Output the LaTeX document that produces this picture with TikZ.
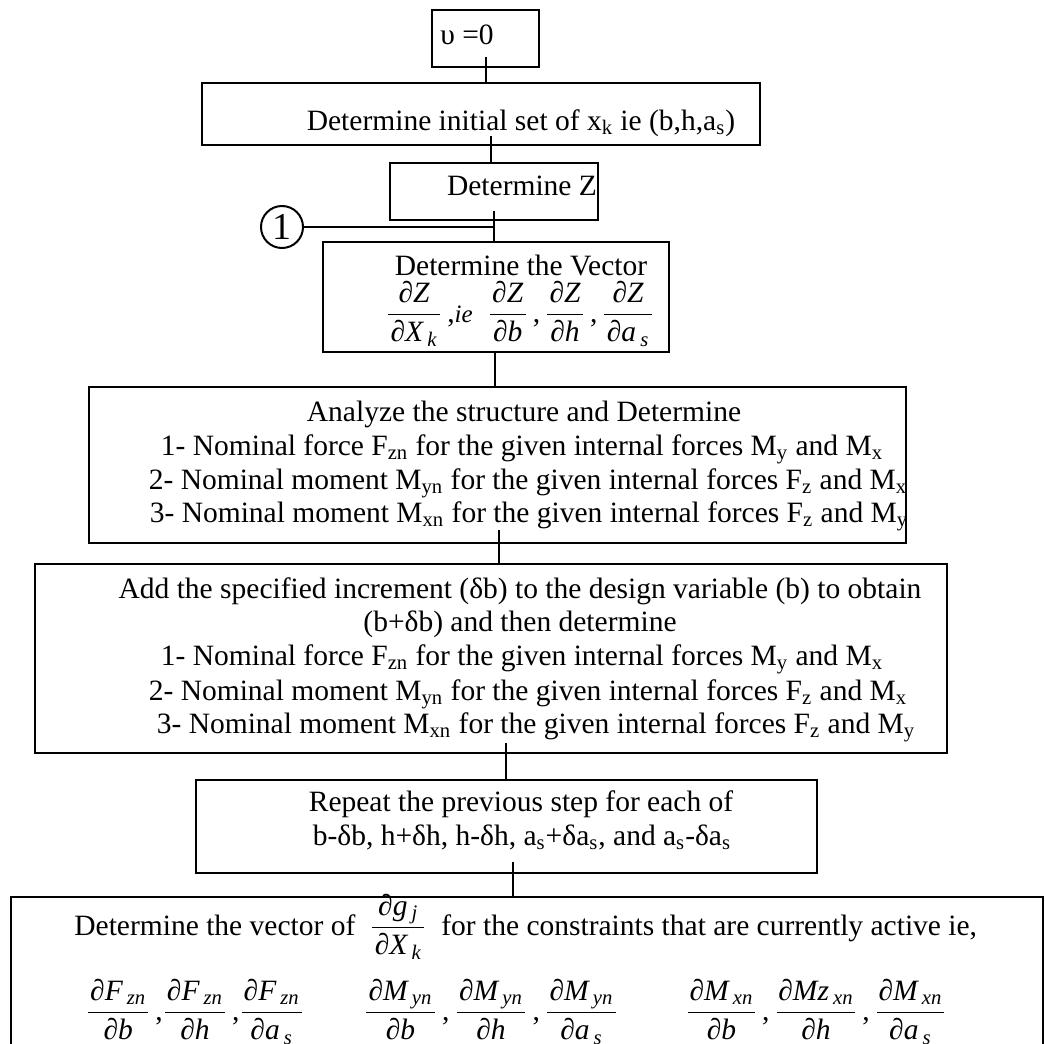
\documentclass[tikz,border=0pt]{standalone}
\usepackage{fontspec}
\usepackage{amsmath}
\setmainfont{Liberation Serif}
\usetikzlibrary{fit}
\newcommand\fs{\fontsize{14.75pt}{16.85pt}\selectfont}
\newcommand\sbs[1]{\hspace{0.14em}\textsubscript{\itshape #1}}
\newlength\fpad
\setlength\fpad{0.12em}
\newcommand\pd[2]{\ensuremath{\dfrac{\text{\itshape\hspace{\fpad}#1\hspace{\fpad}}}{\text{\itshape\hspace{\fpad}#2\hspace{\fpad}}}}}
\newcommand\ts[1]{\textsubscript{#1}}
\begin{document}
\begin{tikzpicture}[x=0.5pt,y=-0.5pt,
  box/.style={draw, line width=1pt, inner sep=0pt, fit={#1}},
  txt/.style={anchor=base, inner sep=0pt, font=\fs},
  conn/.style={line width=1pt}]
\useasboundingbox (0,0) rectangle (1045,1044);
\clip (0,0) rectangle (1045,1044);
% boxes
\node (A) [box={(432,10) (539,67)}] {};
\node (B) [box={(202,83) (760,145)}] {};
\node (C) [box={(390,163) (598,220)}] {};
\node (D) [box={(323,242) (669,352)}] {};
\node (E) [box={(89,387) (906,543)}] {};
\node (F) [box={(35,564) (947,753)}] {};
\node (G) [box={(196,780) (817,873)}] {};
\node (H) [box={(11,897) (1043,1070)}] {};
\node (one) [circle, draw, line width=1pt, minimum size=21pt, inner sep=0pt, font=\fontsize{19pt}{19pt}\selectfont] at (282,227) {1};
% texts
\node (At) [txt] at (467,45) {υ =0};
\node (Bt) [txt] at (521,130) {Determine initial set of x\ts{k} ie (b,h,a\ts{s})};
\node (Ct) [txt] at (522,195) {Determine Z};
\node (Dt1) [txt] at (521,275) {Determine the Vector};
\node (Dt2) [txt] at (520,322) {\pd{∂Z}{∂X\sbs{k}}\,,{\fontsize{12.5pt}{13pt}\selectfont\itshape ie}\hspace{0.5em}\pd{∂Z}{∂b}\,,\hspace{0.15em}\pd{∂Z}{∂h}\,,\hspace{0.15em}\pd{∂Z}{∂a\sbs{s}}};
\node (Et1) [txt] at (524,421) {Analyze the structure and Determine};
\node (Et2) [txt] at (522,455) {1- Nominal force F\ts{zn} for the given internal forces M\ts{y} and M\ts{x}};
\node (Et3) [txt] at (528,489) {2- Nominal moment M\ts{yn} for the given internal forces F\ts{z} and M\ts{x}};
\node (Et4) [txt] at (529,522) {3- Nominal moment M\ts{xn} for the given internal forces F\ts{z} and M\ts{y}};
\node (Ft1) [txt] at (520,598) {Add the specified increment (δb) to the design variable (b) to obtain};
\node (Ft2) [txt] at (520,631) {(b+δb) and then determine};
\node (Ft3) [txt] at (522,665) {1- Nominal force F\ts{zn} for the given internal forces M\ts{y} and M\ts{x}};
\node (Ft4) [txt] at (528,700) {2- Nominal moment M\ts{yn} for the given internal forces F\ts{z} and M\ts{x}};
\node (Ft5) [txt] at (536,733) {3- Nominal moment M\ts{xn} for the given internal forces F\ts{z} and M\ts{y}};
\node (Gt1) [txt] at (521,811) {Repeat the previous step for each of};
\node (Gt2) [txt] at (522,845) {b-δb, h+δh, h-δh, a\ts{s}+δa\ts{s}, and a\ts{s}-δa\ts{s}};
\node (Ht1) [txt, anchor=base west] at (74,935) {Determine the vector of \ \pd{∂g\sbs{j}}{∂X\sbs{k}}\ \ for the constraints that are currently active ie,};
\node (Ht2) [txt] at (195,1020) {\setlength\fpad{0.06em}\pd{∂F\sbs{zn}}{∂b}\,,\pd{∂F\sbs{zn}}{∂h}\,,\pd{∂F\sbs{zn}}{∂a\sbs{s}}};
\node (Ht3) [txt] at (491,1020) {\setlength\fpad{0.08em}\pd{∂M\sbs{yn}}{∂b}\,,\,\pd{∂M\sbs{yn}}{∂h}\,,\,\pd{∂M\sbs{yn}}{∂a\sbs{s}}};
\node (Ht4) [txt] at (816,1020) {\setlength\fpad{0.05em}\pd{∂M\sbs{xn}}{∂b}\,,\,\pd{∂Mz\sbs{xn}}{∂h}\,,\,\pd{∂M\sbs{xn}}{∂a\sbs{s}}};
% connectors
\coordinate (ab) at (486,57);
\coordinate (bc) at (491,136);
\coordinate (cd) at (494,211);
\coordinate (de) at (495,352);
\coordinate (ef) at (499,530);
\coordinate (fg) at (506,743);
\coordinate (gh) at (513,862);
\draw[conn] (ab) -- (ab |- B.north);
\draw[conn] (bc) -- (bc |- C.north);
\draw[conn] (cd) -- (cd |- D.north);
\draw[conn] (one.east) -- (one.east -| cd);
\draw[conn] (de) -- (de |- E.north);
\draw[conn] (ef) -- (ef |- F.north);
\draw[conn] (fg) -- (fg |- G.north);
\draw[conn] (gh) -- (gh |- H.north);
\end{tikzpicture}
\end{document}
